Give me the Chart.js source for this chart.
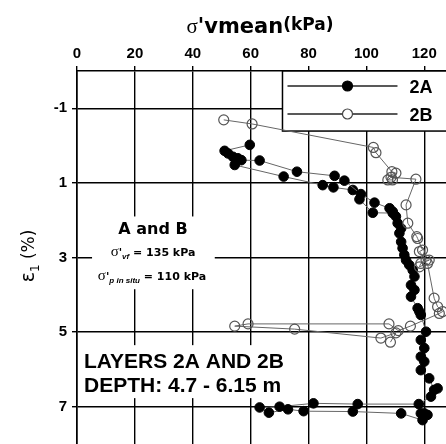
<!DOCTYPE html>
<html>
<head>
<title>Axial strain vs mean effective stress</title>
<script src="https://cdn.jsdelivr.net/npm/chart.js"></script>
<style>
  html, body { margin: 0; padding: 0; background: #fff; }
</style>
</head>
<body>
<canvas id="strainChart" width="446" height="444"></canvas>
<script>
// axis ticks
const stressTicks = [0, 20, 40, 60, 80, 100, 120];
const strainTicks = [-1, 1, 3, 5, 7];

// layer 2A (filled), main path
const a2Stress = [59.7, 51.0, 52.2, 53.9, 55.6, 56.8, 63.1, 76.0, 89.0, 92.4, 98.1, 102.8, 108.0, 109.1, 110.2, 110.8,
  112.0, 111.4, 112.0, 112.5, 113.1, 113.7, 114.8, 116.0, 116.6, 115.4, 116.6, 115.4, 117.7, 118.3, 118.8, 120.6,
  118.8, 120.0, 118.8, 120.0, 118.8, 121.7, 123.4, 124.6, 122.3, 118.1, 97.0, 81.7, 70.0, 63.1, 66.3, 72.9, 78.3,
  95.3, 112.0, 119.4, 121.1, 118.8, 120.0];
const a2Strain = [-0.02, 0.14, 0.21, 0.30, 0.34, 0.39, 0.40, 0.70, 0.81, 0.94, 1.30, 1.53, 1.68, 1.77, 1.90, 2.08,
  2.22, 2.35, 2.58, 2.75, 2.93, 3.07, 3.20, 3.34, 3.51, 3.74, 3.87, 4.05, 4.36, 4.45, 4.54, 4.99,
  5.21, 5.43, 5.66, 5.79, 6.02, 6.24, 6.55, 6.51, 6.73, 6.93, 6.93, 6.91, 7.00, 7.02, 7.16, 7.07, 7.12,
  7.13, 7.18, 7.36, 7.22, 7.18, 7.18];

// layer 2A, second branch
const a2bStress = [54.5, 71.4, 84.9, 88.6, 95.3, 97.6, 102.2, 109.1];
const a2bStrain = [0.52, 0.83, 1.06, 1.12, 1.19, 1.44, 1.80, 1.81];

// layer 2B (open)
const b2Stress = [50.7, 60.5, 102.4, 103.3, 108.8, 110.2, 109.0, 107.4, 108.5, 117.1, 113.7, 114.3, 117.4, 117.7,
  119.4, 118.3, 120.6, 121.7, 118.8, 118.3, 121.1, 123.4, 124.6, 126.3, 125.2, 115.2, 111.0, 107.8, 59.1, 54.5,
  75.2, 105.0, 110.2, 108.3];
const b2Strain = [-0.69, -0.58, 0.05, 0.19, 0.70, 0.74, 0.92, 0.92, 0.85, 0.90, 1.59, 2.08, 2.44, 2.49,
  2.80, 2.84, 3.07, 3.07, 3.16, 3.25, 3.16, 4.09, 4.32, 4.45, 4.50, 4.84, 4.96, 4.78, 4.78, 4.84,
  4.92, 5.16, 5.02, 5.27];

function toPoints(xs, ys) {
  return xs.map((x, i) => ({ x: x, y: ys[i] }));
}

// draws several text pieces one after another on a baseline
function drawRuns(ctx, runs, x, y, align) {
  let total = 0;
  runs.forEach(r => { ctx.font = r.font; r.w = ctx.measureText(r.t).width; total += r.w; });
  let cx = align === 'center' ? x - total / 2 : x;
  ctx.textAlign = 'left';
  ctx.textBaseline = 'alphabetic';
  runs.forEach(r => {
    ctx.font = r.font;
    ctx.fillText(r.t, cx, y + (r.dy || 0));
    cx += r.w;
  });
}

const SANS = '"Liberation Sans", Arial, sans-serif';
const WIDE = '"DejaVu Sans", sans-serif';

const decor = {
  id: 'decor',
  beforeDatasetsDraw(chart) {
    const ctx = chart.ctx;
    const xs = chart.scales.x, ys = chart.scales.y;
    ctx.save();
    ctx.fillStyle = '#fff';
    // white text boxes cover the grid
    const box = (x0, y0, x1, y1) => {
      const l = xs.getPixelForValue(x0), r = xs.getPixelForValue(x1);
      const t = ys.getPixelForValue(y0), b = ys.getPixelForValue(y1);
      ctx.fillRect(l, t, r - l, b - t);
    };
    box(5.2, 1.9, 47.6, 3.85);
    box(0.6, 5.35, 72.8, 6.77);

    // legend box
    const ca = chart.chartArea;
    const lx = xs.getPixelForValue(71);
    const lb = ys.getPixelForValue(-0.39);
    ctx.fillRect(lx, ca.top, ca.right - lx + 5, lb - ca.top);
    ctx.strokeStyle = '#000';
    ctx.lineWidth = 1.5;
    ctx.strokeRect(lx, ca.top, ca.right - lx + 10, lb - ca.top);

    const rows = [
      { label: '2A', y: ca.top + 15, fill: '#000', stroke: '#000' },
      { label: '2B', y: ca.top + 43, fill: '#fff', stroke: '#444' }
    ];
    rows.forEach(row => {
      ctx.strokeStyle = '#222';
      ctx.lineWidth = 1.3;
      ctx.beginPath();
      ctx.moveTo(lx + 5, row.y);
      ctx.lineTo(lx + 115, row.y);
      ctx.stroke();
      ctx.beginPath();
      ctx.arc(lx + 65, row.y, 5, 0, Math.PI * 2);
      ctx.fillStyle = row.fill;
      ctx.fill();
      ctx.strokeStyle = row.stroke;
      ctx.lineWidth = 1.2;
      ctx.stroke();
      ctx.fillStyle = '#000';
      drawRuns(ctx, [{ t: row.label, font: 'bold 18px ' + SANS }], lx + 127, row.y + 6.5, 'left');
    });

    // notes
    ctx.fillStyle = '#000';
    drawRuns(ctx, [{ t: 'A and B', font: 'bold 16px ' + WIDE }], 153, 234, 'center');
    drawRuns(ctx, [
      { t: 'σ', font: '15px "Liberation Serif", serif' },
      { t: '\'', font: 'bold 11px ' + WIDE },
      { t: 'vf', font: 'italic bold 8px ' + SANS, dy: 3 },
      { t: ' = 135 kPa', font: 'bold 11px ' + WIDE }
    ], 153, 256, 'center');
    drawRuns(ctx, [
      { t: 'σ', font: '15px "Liberation Serif", serif' },
      { t: '\'', font: 'bold 11px ' + WIDE },
      { t: 'p in situ', font: 'italic bold 8px ' + SANS, dy: 3 },
      { t: ' = 110 kPa', font: 'bold 11px ' + WIDE }
    ], 152, 280, 'center');
    drawRuns(ctx, [{ t: 'LAYERS 2A AND 2B', font: 'bold 21px ' + SANS }], 84, 368, 'left');
    drawRuns(ctx, [{ t: 'DEPTH: 4.7 - 6.15 m', font: 'bold 21px ' + SANS }], 84, 392, 'left');
    ctx.restore();
  },
  afterDraw(chart) {
    const ctx = chart.ctx;
    ctx.save();
    ctx.fillStyle = '#000';
    drawRuns(ctx, [
      { t: 'σ', font: '21px "Liberation Serif", serif' },
      { t: '\'vmean', font: 'bold 21px ' + WIDE },
      { t: '(kPa)', font: 'bold 17px ' + WIDE, dy: -3 }
    ], 260, 33, 'center');

    ctx.translate(28, 256);
    ctx.rotate(-Math.PI / 2);
    drawRuns(ctx, [
      { t: 'ε', font: '19px "DejaVu Sans", sans-serif' },
      { t: '1', font: '12px "DejaVu Sans", sans-serif', dy: 5 },
      { t: ' (%)', font: '17px "DejaVu Sans", sans-serif' }
    ], 0, 6, 'center');
    ctx.restore();
  }
};

const ctx = document.getElementById('strainChart').getContext('2d');
const strainChart = new Chart(ctx, {
  type: 'scatter',
  data: {
    datasets: [
      {
        label: '2B',
        data: toPoints(b2Stress, b2Strain),
        showLine: true,
        borderColor: '#666',
        borderWidth: 1,
        pointRadius: 5,
        pointBackgroundColor: 'rgba(255,255,255,0)',
        pointBorderColor: '#555',
        pointBorderWidth: 1.2
      },
      {
        label: '2A',
        data: toPoints(a2Stress, a2Strain),
        showLine: true,
        borderColor: '#666',
        borderWidth: 1,
        pointRadius: 4.8,
        pointBackgroundColor: '#000',
        pointBorderColor: '#000',
        pointBorderWidth: 1
      },
      {
        label: '2A branch',
        data: toPoints(a2bStress, a2bStrain),
        showLine: true,
        borderColor: '#666',
        borderWidth: 1,
        pointRadius: 4.8,
        pointBackgroundColor: '#000',
        pointBorderColor: '#000',
        pointBorderWidth: 1
      }
    ]
  },
  options: {
    responsive: false,
    animation: false,
    events: [],
    devicePixelRatio: 1,
    layout: { padding: 0, autoPadding: false },
    plugins: {
      legend: { display: false },
      tooltip: { enabled: false }
    },
    scales: {
      x: {
        type: 'linear',
        position: 'top',
        min: 0,
        max: 127.5,
        afterBuildTicks: s => { s.ticks = stressTicks.map(v => ({ value: v })); },
        afterFit: s => { s.height = 71; s.paddingLeft = 0; s.paddingRight = 0; },
        grid: { color: '#000', lineWidth: 1.4, tickLength: 5 },
        border: { color: '#000', width: 1.6 },
        ticks: {
          color: '#000',
          padding: 3,
          maxRotation: 0,
          font: { family: 'Liberation Sans', weight: 'bold', size: 15 }
        }
      },
      y: {
        type: 'linear',
        reverse: true,
        min: -2,
        max: 8,
        afterBuildTicks: s => { s.ticks = strainTicks.map(v => ({ value: v })); },
        afterFit: s => { s.width = 77; s.paddingTop = 0; s.paddingBottom = 0; },
        grid: { color: '#000', lineWidth: 1.4, tickLength: 5 },
        border: { color: '#000', width: 1.6 },
        ticks: {
          color: '#000',
          padding: 5,
          font: { family: 'Liberation Sans', weight: 'bold', size: 15 }
        }
      }
    }
  },
  plugins: [decor]
});
</script>
</body>
</html>
